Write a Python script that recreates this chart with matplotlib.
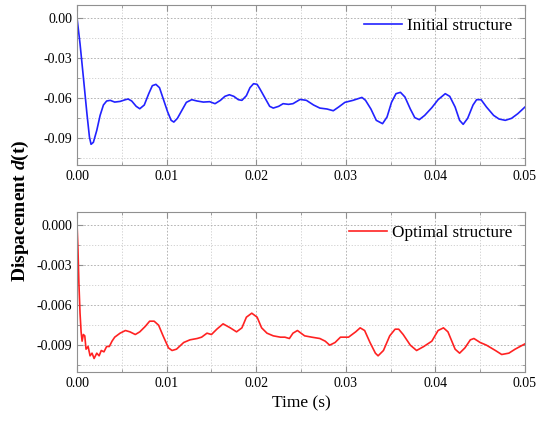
import numpy as np
import matplotlib
matplotlib.use('Agg')
import matplotlib.pyplot as plt
from matplotlib.ticker import MultipleLocator, FormatStrFormatter

plt.rcParams['font.family'] = ['Liberation Serif', 'DejaVu Serif']
plt.rcParams['mathtext.fontset'] = 'custom'
plt.rcParams['mathtext.it'] = 'Liberation Serif:italic:bold'

# initial structure
t_init = [0.0, 0.00033, 0.0007, 0.0011, 0.00138, 0.00156, 0.00182, 0.0022, 0.00257, 0.00294,
          0.0033, 0.0037, 0.0042, 0.0048, 0.0054, 0.0057, 0.0061, 0.0066, 0.0070, 0.0075,
          0.0080, 0.0084, 0.0088, 0.0092, 0.0096, 0.0101, 0.0105, 0.0108, 0.0112, 0.0117,
          0.0122, 0.0128, 0.0134, 0.0141, 0.0148, 0.0154, 0.0160, 0.0165, 0.0170, 0.0175,
          0.0180, 0.0184, 0.0189, 0.0193, 0.0197, 0.0201, 0.0204, 0.0210, 0.0215, 0.0219,
          0.0225, 0.0230, 0.0236, 0.0241, 0.0249, 0.0256, 0.0264, 0.0271, 0.0279, 0.0286,
          0.0292, 0.0299, 0.0308, 0.0318, 0.0322, 0.0328, 0.0334, 0.0341, 0.0346, 0.0351,
          0.0356, 0.0361, 0.0366, 0.0372, 0.0377, 0.0382, 0.0388, 0.0396, 0.0403, 0.0411,
          0.0416, 0.0422, 0.0427, 0.0431, 0.0436, 0.0442, 0.0446, 0.0451, 0.0457, 0.0465,
          0.0471, 0.0478, 0.0485, 0.0492, 0.0500]
d_init = [0.0, -0.019, -0.044, -0.0715, -0.089, -0.0945, -0.093, -0.084, -0.0728, -0.065,
          -0.062, -0.0615, -0.0628, -0.0623, -0.061, -0.0605, -0.062, -0.066, -0.0678, -0.065,
          -0.0565, -0.0505, -0.0495, -0.052, -0.060, -0.070, -0.0765, -0.0778, -0.075, -0.069,
          -0.063, -0.061, -0.062, -0.0628, -0.0625, -0.064, -0.0615, -0.0585, -0.0573, -0.0585,
          -0.061, -0.0615, -0.058, -0.052, -0.049, -0.0495, -0.0528, -0.060, -0.066, -0.0673,
          -0.066, -0.064, -0.0645, -0.064, -0.0608, -0.0615, -0.065, -0.0673, -0.068, -0.0693,
          -0.0665, -0.063, -0.0615, -0.0593, -0.0615, -0.068, -0.0765, -0.079, -0.074, -0.063,
          -0.0565, -0.0555, -0.059, -0.068, -0.0745, -0.076, -0.0728, -0.067, -0.061, -0.0565,
          -0.0585, -0.0665, -0.0765, -0.0795, -0.075, -0.065, -0.061, -0.061, -0.0665, -0.0728,
          -0.0755, -0.0765, -0.075, -0.0715, -0.0665]

# optimal structure
t_opt = [0.0, 0.0001, 0.0002, 0.00033, 0.00045, 0.00056, 0.0007, 0.00086, 0.0010, 0.00123,
         0.00145, 0.00167, 0.0019, 0.0022, 0.00246, 0.0027, 0.0030, 0.0033, 0.0036, 0.0039,
         0.0042, 0.0044, 0.0048, 0.0054, 0.0059, 0.0065, 0.0070, 0.0076, 0.0081, 0.0086,
         0.0091, 0.0096, 0.0102, 0.0106, 0.0111, 0.0119, 0.0126, 0.0134, 0.0139, 0.0145,
         0.0150, 0.0156, 0.0163, 0.0171, 0.0178, 0.0184, 0.0189, 0.0195, 0.0201, 0.0206,
         0.0212, 0.0219, 0.0227, 0.0232, 0.0237, 0.0241, 0.0246, 0.0250, 0.0254, 0.0262,
         0.0271, 0.0277, 0.0282, 0.0288, 0.0294, 0.0303, 0.0311, 0.0316, 0.0321, 0.0327,
         0.0333, 0.0336, 0.0342, 0.0349, 0.0355, 0.0359, 0.0364, 0.0372, 0.0379, 0.0387,
         0.0396, 0.0403, 0.0409, 0.0414, 0.0422, 0.0427, 0.0433, 0.0439, 0.0443, 0.0450,
         0.0457, 0.0467, 0.0474, 0.0482, 0.0489, 0.0500]
d_opt = [0.0, -0.0018, -0.0043, -0.0066, -0.0080, -0.0087, -0.0082, -0.0083, -0.0093, -0.0091,
         -0.0098, -0.0096, -0.0100, -0.0096, -0.0098, -0.0094, -0.0095, -0.0091, -0.0091, -0.0087,
         -0.0084, -0.0083, -0.0081, -0.0079, -0.0080, -0.0082, -0.0080, -0.0076, -0.0072, -0.0072,
         -0.0075, -0.0083, -0.0092, -0.0094, -0.0093, -0.0088, -0.0086, -0.0085, -0.0084, -0.0081,
         -0.0082, -0.0078, -0.0074, -0.0077, -0.0080, -0.0077, -0.0069, -0.0066, -0.0069, -0.0077,
         -0.0081, -0.0083, -0.0084, -0.0084, -0.0085, -0.0081, -0.0079, -0.0081, -0.0083, -0.0084,
         -0.0085, -0.0087, -0.0090, -0.0088, -0.0084, -0.0084, -0.0080, -0.0077, -0.0079, -0.0088,
         -0.0096, -0.0098, -0.0094, -0.0083, -0.0078, -0.0078, -0.0082, -0.0090, -0.0094, -0.0091,
         -0.0087, -0.0079, -0.0077, -0.0080, -0.0093, -0.0096, -0.0092, -0.0086, -0.0085, -0.0088,
         -0.0090, -0.0094, -0.0097, -0.0096, -0.0093, -0.0089]

fig = plt.figure(figsize=(5.39, 4.23), dpi=100)
ax1 = fig.add_axes([0.143, 0.610, 0.831, 0.378])
ax2 = fig.add_axes([0.143, 0.121, 0.831, 0.378])

ax1.plot(t_init, d_init, color='#2222ff', lw=1.2, label='Initial structure')
ax2.plot(t_opt, d_opt, color='#ff2222', lw=1.2, label='Optimal structure')

ax1.set_ylim(-0.11, 0.01)
ax1.yaxis.set_major_locator(MultipleLocator(0.03))
ax1.yaxis.set_minor_locator(MultipleLocator(0.015))
ax1.yaxis.set_major_formatter(FormatStrFormatter('%.2f'))
ax2.set_ylim(-0.011, 0.001)
ax2.yaxis.set_major_locator(MultipleLocator(0.003))
ax2.yaxis.set_minor_locator(MultipleLocator(0.0015))
ax2.yaxis.set_major_formatter(FormatStrFormatter('%.3f'))

for ax in (ax1, ax2):
    ax.set_xlim(0, 0.05)
    ax.xaxis.set_major_locator(MultipleLocator(0.01))
    ax.xaxis.set_minor_locator(MultipleLocator(0.005))
    ax.xaxis.set_major_formatter(FormatStrFormatter('%.2f'))
    ax.grid(which='major', color='#a8a8a8', ls=(0, (2, 2)), lw=0.6)
    ax.grid(which='minor', color='#cccccc', ls=(0, (1.5, 2)), lw=0.6)
    ax.tick_params(which='both', direction='in', top=True, right=True,
                   color='#909090', labelsize=10)
    ax.tick_params(which='major', length=4)
    ax.tick_params(which='minor', length=2.5)
    for s in ax.spines.values():
        s.set_color('#909090')
    ax.legend(loc='upper right', bbox_to_anchor=(0.995, 0.985), frameon=False,
              fontsize=12.3, handlelength=2.25, handletextpad=0.3, borderaxespad=0.2)

ax2.set_xlabel('Time (s)', fontsize=12.5)
fig.text(0.037, 0.503, 'Dispacement $d$(t)', rotation=90, fontsize=14,
         fontweight='bold', ha='center', va='center')

fig.savefig('out.png', dpi=100)
